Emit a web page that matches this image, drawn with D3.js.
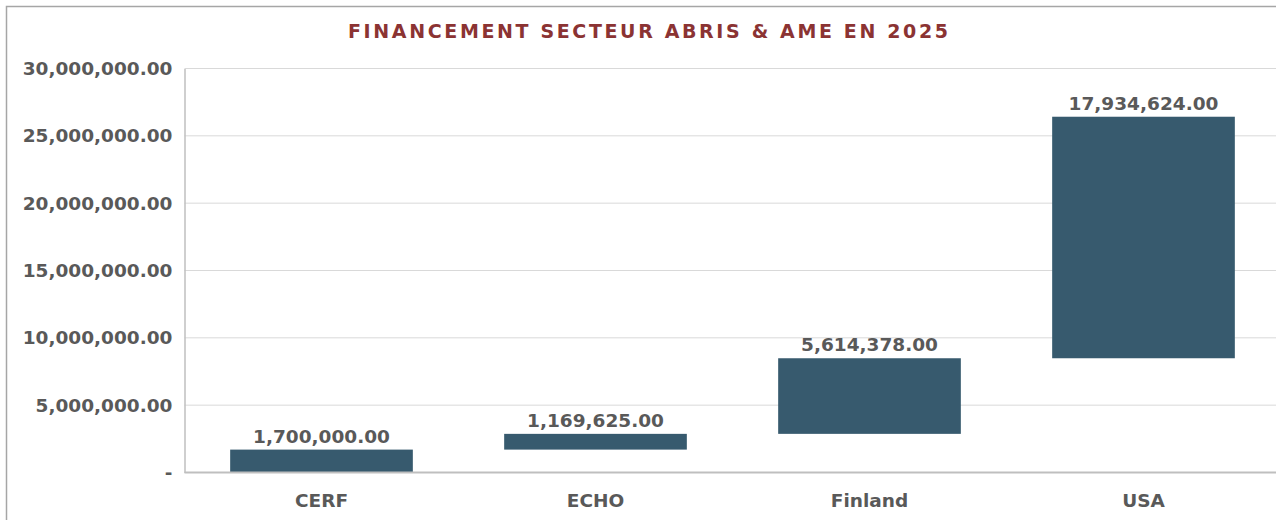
<!DOCTYPE html>
<html>
<head>
<meta charset="utf-8">
<script src="https://cdn.jsdelivr.net/npm/d3@7"></script>
<style>
  html, body { margin: 0; padding: 0; background: #fff; }
  svg { display: block; }
</style>
</head>
<body>
<svg id="chart" width="1276" height="520"></svg>
<script>
const title = "FINANCEMENT SECTEUR ABRIS & AME EN 2025";
const categories = ["CERF", "ECHO", "Finland", "USA"];
const values = [1700000, 1169625, 5614378, 17934624];
const yTicks = [0, 5000000, 10000000, 15000000, 20000000, 25000000, 30000000];
const yTickLabels = ["-", "5,000,000.00", "10,000,000.00", "15,000,000.00", "20,000,000.00", "25,000,000.00", "30,000,000.00"];
const valueLabels = ["1,700,000.00", "1,169,625.00", "5,614,378.00", "17,934,624.00"];

(function () {
const W = 1276, H = 520;
const mLeft = 184.5, mRight = 1280.5, mTop = 68.5, mBottom = 472.5;
const font = "'DejaVu Sans', sans-serif";
const textColor = "#595959";
const barColor = "#375A6E";

const svg = d3.select("#chart");

// outer border
svg.append("rect").attr("x", 6.5).attr("y", 6.5).attr("width", W + 10).attr("height", H + 10)
  .attr("fill", "none").attr("stroke", "#a6a6a6").attr("stroke-width", 1.5);

const x = d3.scaleBand().domain(categories).range([mLeft, mRight])
  .paddingInner(1/3).paddingOuter(1/6);
const y = d3.scaleLinear().domain([0, 30000000]).range([mBottom, mTop]);

// gridlines
svg.append("g").selectAll("line").data(yTicks.filter(d => d > 0)).join("line")
  .attr("x1", mLeft).attr("x2", W).attr("y1", d => y(d)).attr("y2", d => y(d))
  .attr("stroke", "#d9d9d9").attr("stroke-width", 1);

// y axis
const yAxis = d3.axisLeft(y).tickValues(yTicks)
  .tickFormat((d, i) => yTickLabels[i]).tickSize(0).tickPadding(12);
const gy = svg.append("g").attr("transform", `translate(${mLeft},0)`).call(yAxis);
gy.select(".domain").attr("stroke", "#bfbfbf").attr("stroke-width", 1.5);
gy.selectAll("text").attr("font-family", font).attr("font-size", "18.5px")
  .attr("font-weight", "bold").attr("fill", textColor);

// waterfall bars
let cum = 0;
const bars = values.map((v, i) => {
  const start = cum; cum += v;
  return { cat: categories[i], start, end: cum, label: valueLabels[i] };
});

svg.append("g").selectAll("rect").data(bars).join("rect")
  .attr("x", d => x(d.cat)).attr("width", x.bandwidth())
  .attr("y", d => y(d.end)).attr("height", d => y(d.start) - y(d.end))
  .attr("fill", barColor);

// x axis
const xAxis = d3.axisBottom(x).tickSize(0).tickPadding(21);
const gx = svg.append("g").attr("transform", `translate(0,${mBottom})`).call(xAxis);
gx.select(".domain").attr("stroke", "#bfbfbf").attr("stroke-width", 2).attr("d", `M${mLeft},0H${W}`);
gx.selectAll("text").attr("font-family", font).attr("font-size", "18.5px")
  .attr("font-weight", "bold").attr("fill", textColor);

// data labels
svg.append("g").selectAll("text").data(bars).join("text")
  .attr("x", d => x(d.cat) + x.bandwidth() / 2).attr("y", d => y(d.end) - 7)
  .attr("text-anchor", "middle").attr("font-family", font).attr("font-size", "18.5px")
  .attr("font-weight", "bold").attr("fill", textColor).text(d => d.label);

// title
svg.append("text").attr("x", 648).attr("y", 38).attr("text-anchor", "middle")
  .attr("font-family", font).attr("font-size", "19px").attr("font-weight", "bold")
  .attr("fill", "#8B3333").attr("textLength", 600).attr("lengthAdjust", "spacing")
  .text(title);
})();
</script>
</body>
</html>
